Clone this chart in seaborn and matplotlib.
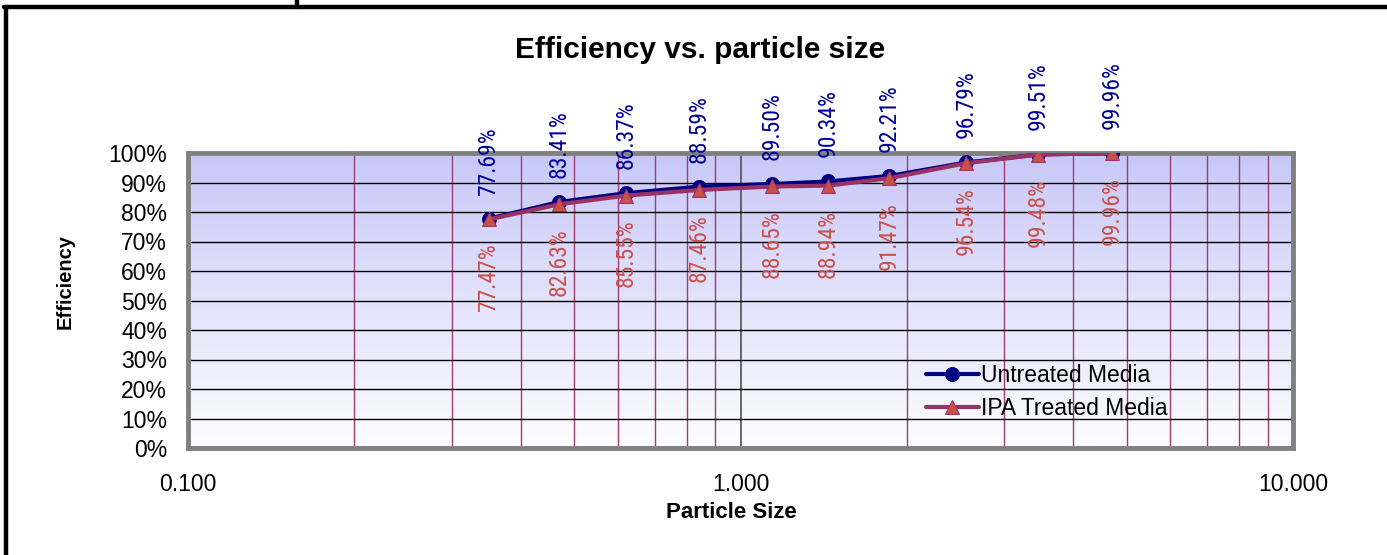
import matplotlib
matplotlib.use("Agg")
import numpy as np
import pandas as pd
import matplotlib.pyplot as plt
import seaborn as sns
from matplotlib.colors import LinearSegmentedColormap
from matplotlib.lines import Line2D
from matplotlib.ticker import LogLocator, NullFormatter, FuncFormatter

# data
particle_size = [0.35, 0.47, 0.62, 0.84, 1.14, 1.44, 1.86, 2.56, 3.46, 4.70]
untreated = [77.69, 83.41, 86.37, 88.59, 89.50, 90.34, 92.21, 96.79, 99.51, 99.96]
ipa_treated = [77.47, 82.63, 85.55, 87.46, 88.65, 88.94, 91.47, 96.54, 99.48, 99.96]
y_ticks = list(range(0, 101, 10))
x_ticks = [0.1, 1.0, 10.0]

df = pd.DataFrame({
    "size": particle_size,
    "untreated": untreated,
    "ipa": ipa_treated,
})

sns.set_style("white")
plt.rcParams["font.family"] = ["Liberation Sans", "DejaVu Sans"]
for key in ["text.color", "axes.labelcolor", "xtick.color", "ytick.color"]:
    plt.rcParams[key] = "black"
narrow = ["Liberation Sans Narrow", "DejaVu Sans Condensed", "Roboto Condensed",
          "Open Sans Condensed", "Liberation Sans"]

fig = plt.figure(figsize=(13.87, 5.55), dpi=100)
pos = [188 / 1387, 1 - 448 / 555, 1105 / 1387, 295 / 555]

# gradient plot background
bg = fig.add_axes(pos, zorder=0)
bg_cmap = LinearSegmentedColormap.from_list("bg", ["#C8C8F8", "#FDFDFF"])
bg.imshow(np.linspace(0, 1, 256).reshape(-1, 1), cmap=bg_cmap,
          aspect="auto", extent=[0, 1, 0, 1])
bg.axis("off")

ax = fig.add_axes(pos, zorder=1)
ax.set_facecolor("none")

sns.lineplot(data=df, x="size", y="untreated", ax=ax, color="#000080",
             lw=3, marker="o", markersize=10, markerfacecolor="#000080",
             markeredgecolor="#000080", label="Untreated Media", zorder=3)
sns.lineplot(data=df, x="size", y="ipa", ax=ax, color="#993366",
             lw=3, marker="^", markersize=10, markerfacecolor="#C8504A",
             markeredgecolor="#993366", label="IPA Treated Media", zorder=4)

ax.set_xscale("log")
ax.set_xlim(0.1, 10)
ax.set_ylim(0, 100)
ax.set_yticks(y_ticks)
ax.yaxis.set_major_formatter(FuncFormatter(lambda v, p: f"{v:.0f}%"))
ax.set_xticks(x_ticks)
ax.xaxis.set_minor_locator(LogLocator(base=10, subs=np.arange(2, 10)))
ax.xaxis.set_minor_formatter(NullFormatter())
ax.xaxis.set_major_formatter(FuncFormatter(lambda v, p: f"{v:.3f}"))

ax.set_axisbelow(True)
ax.yaxis.grid(True, color="black", lw=1)
ax.xaxis.grid(True, which="major", color="#505050", lw=1.2)
ax.xaxis.grid(True, which="minor", color="#A03C70", lw=1)

for s in ax.spines.values():
    s.set_color("#808080")
    s.set_linewidth(3.5)

ax.tick_params(axis="both", which="major", labelsize=16.5, length=6,
               width=1, color="black", direction="out", pad=8)
ax.tick_params(axis="x", which="minor", length=5, width=1, color="black")
ax.tick_params(axis="x", which="major", pad=12)
ax.tick_params(axis="y", which="major", pad=9)

# data labels
for x, v in zip(particle_size, untreated):
    ax.annotate(f"{v:.2f}%", (x, v), xytext=(0, 24), textcoords="offset pixels",
                rotation=90, ha="center", va="bottom", color="#000099",
                fontsize=17, family=narrow, fontstretch="condensed", zorder=5)
for x, v in zip(particle_size, ipa_treated):
    ax.annotate(f"{v:.2f}%", (x, v), xytext=(0, -24), textcoords="offset pixels",
                rotation=90, ha="center", va="top", color="#C8504A",
                fontsize=17, family=narrow, fontstretch="condensed", zorder=5)

ax.set_xlabel("Particle Size", fontsize=16, fontweight="bold")
ax.xaxis.set_label_coords(0.492, -0.183)
ax.set_ylabel("Efficiency", fontsize=14.5, fontweight="bold")
ax.yaxis.set_label_coords(-0.103, 0.566)

ax.legend(loc="center left", bbox_to_anchor=(0.668, 0.19), frameon=False,
          fontsize=16.5, handlelength=2.3, handletextpad=0.1,
          labelspacing=0.45, borderpad=0, borderaxespad=0)

fig.text(700 / 1387, 1 - 50 / 555, "Efficiency vs. particle size",
         ha="center", va="center", fontsize=21.5, fontweight="bold")

# outer sheet frame
fig.add_artist(Line2D([6 / 1387, 6 / 1387], [0, 1 - 7 / 555], color="black", lw=3.2))
fig.add_artist(Line2D([4 / 1387, 1], [1 - 7 / 555, 1 - 7 / 555], color="black", lw=3.2))
fig.add_artist(Line2D([297 / 1387, 297 / 1387], [1, 1 - 7 / 555], color="black", lw=3.2))

fig.savefig("out.png", dpi=100)
plt.close(fig)
